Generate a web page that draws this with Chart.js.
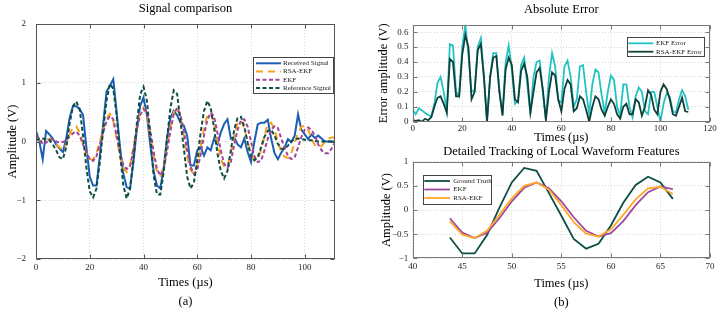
<!DOCTYPE html>
<html>
<head>
<meta charset="utf-8">
<title>Signal comparison</title>
<script src="https://cdn.jsdelivr.net/npm/chart.js@4.4.0/dist/chart.umd.min.js"></script>
<style>
  html, body { margin: 0; padding: 0; background: #fff; }
  #wrap { position: relative; width: 725px; height: 315px; overflow: hidden; }
  canvas { position: absolute; }
</style>
</head>
<body>
<div id="wrap">
  <canvas id="chartA" width="372" height="315" style="left:0;top:0"></canvas>
  <canvas id="chartErr" width="355" height="146" style="left:370px;top:0"></canvas>
  <canvas id="chartZoom" width="355" height="172" style="left:370px;top:143px"></canvas>
</div>
<script>
// tider i µs (samma samplingssteg för alla kurvor i (a) och felgrafen)
const times = [
  0, 1.25, 2.5, 3.75, 5, 6.25, 7.5, 8.75, 10, 11.25,
  12.5, 13.75, 15, 16.25, 17.5, 18.75, 20, 21.25, 22.5, 23.75,
  25, 26.25, 27.5, 28.75, 30, 31.25, 32.5, 33.75, 35, 36.25,
  37.5, 38.75, 40, 41.25, 42.5, 43.75, 45, 46.25, 47.5, 48.75,
  50, 51.25, 52.5, 53.75, 55, 56.25, 57.5, 58.75, 60, 61.25,
  62.5, 63.75, 65, 66.25, 67.5, 68.75, 70, 71.25, 72.5, 73.75,
  75, 76.25, 77.5, 78.75, 80, 81.25, 82.5, 83.75, 85, 86.25,
  87.5, 88.75, 90, 91.25, 92.5, 93.75, 95, 96.25, 97.5, 98.75,
  100, 101.25, 102.5, 103.75, 105, 106.25, 107.5, 108.75, 110, 111.25
];

const received = [
  0.18, 0.0, -0.3, 0.18, 0.12, 0.05, -0.05, -0.12, -0.18, 0.05,
  0.4, 0.6, 0.6, 0.55, 0.45, -0.1, -0.6, -0.75, -0.75, -0.25,
  0.3, 0.85, 0.95, 1.06, 0.5, -0.1, -0.55, -0.78, -0.8, -0.35,
  0.2, 0.6, 0.75, 0.45, -0.05, -0.5, -0.75, -0.8, -0.45, 0.05,
  0.4, 0.52, 0.45, 0.32, 0.27, 0.1, -0.41, -0.41, -0.15, -0.1,
  -0.24, -0.1, -0.15, 0.05, -0.05, 0.15, 0.3, 0.38, 0.05, 0.07,
  -0.05, -0.1, 0.05, -0.18, -0.35, 0.0, 0.29, 0.32, 0.32, 0.37,
  0.05, -0.2, -0.3, -0.19, -0.1, 0.04, -0.01, 0.1, 0.46, 0.2,
  0.12, 0.04, 0.12, 0.06, 0.1, 0.05, 0.0, 0.0, 0.0, 0.0
];

const rsaEkf = [
  0.05, 0.02, 0.0, 0.02, 0.05, 0.02, -0.05, -0.1, -0.14, -0.05,
  0.12, 0.24, 0.26, 0.15, -0.05, -0.2, -0.3, -0.31, -0.2, 0.0,
  0.22, 0.4, 0.47, 0.35, 0.05, -0.25, -0.45, -0.52, -0.4, -0.1,
  0.25, 0.5, 0.58, 0.45, 0.1, -0.23, -0.51, -0.58, -0.43, -0.1,
  0.24, 0.5, 0.57, 0.42, 0.1, -0.25, -0.49, -0.55, -0.4, -0.1,
  0.22, 0.45, 0.48, 0.33, 0.0, -0.3, -0.43, -0.42, -0.2, 0.1,
  0.32, 0.36, 0.22, 0.0, -0.22, -0.32, -0.3, -0.15, 0.1, 0.3,
  0.32, 0.2, 0.0, -0.18, -0.26, -0.28, -0.2, -0.02, 0.15, 0.25,
  0.27, 0.2, 0.05, -0.06, -0.1, -0.08, 0.0, 0.05, 0.07, 0.07
];

const ekf = [
  0.1, 0.05, -0.05, -0.02, 0.03, 0.04, 0.0, -0.02, -0.01, 0.02,
  0.08, 0.14, 0.17, 0.1, -0.05, -0.18, -0.3, -0.33, -0.25, -0.05,
  0.15, 0.35, 0.43, 0.38, 0.1, -0.2, -0.4, -0.47, -0.42, -0.15,
  0.2, 0.45, 0.55, 0.5, 0.2, -0.17, -0.47, -0.58, -0.47, -0.17,
  0.18, 0.46, 0.57, 0.45, 0.18, -0.15, -0.43, -0.55, -0.48, -0.23,
  0.1, 0.37, 0.49, 0.43, 0.15, -0.15, -0.38, -0.45, -0.35, -0.05,
  0.2, 0.36, 0.38, 0.25, 0.0, -0.25, -0.35, -0.33, -0.15, 0.05,
  0.2, 0.26, 0.23, 0.05, -0.1, -0.25, -0.3, -0.27, -0.1, 0.08,
  0.2, 0.24, 0.2, 0.1, -0.05, -0.15, -0.2, -0.2, -0.12, -0.02
];

const reference = [
  0.02, 0.04, 0.05, 0.04, 0.02, -0.05, -0.15, -0.27, -0.3, -0.1,
  0.3, 0.6, 0.68, 0.55, 0.1, -0.45, -0.85, -0.95, -0.8, -0.35,
  0.2, 0.7, 0.98, 0.9, 0.45, -0.2, -0.75, -0.97, -0.8, -0.3,
  0.3, 0.8, 0.93, 0.7, 0.1, -0.57, -0.9, -0.9, -0.52, 0.05,
  0.57, 0.87, 0.81, 0.35, -0.12, -0.6, -0.8, -0.7, -0.32, 0.15,
  0.52, 0.69, 0.57, 0.23, -0.2, -0.5, -0.63, -0.5, -0.15, 0.2,
  0.4, 0.42, 0.25, -0.02, -0.25, -0.32, -0.27, -0.1, 0.08, 0.18,
  0.2, 0.1, -0.04, -0.12, -0.13, -0.07, 0.0, 0.04, 0.05, 0.04,
  0.03, 0.02, 0.02, 0.01, 0.0, 0.0, 0.0, 0.0, 0.0, 0.0
];

// absolutfel
const ekfError = [
  0.08, 0.05, 0.09, 0.075, 0.06, 0.045, 0.035, 0.12, 0.26, 0.3,
  0.2, 0.07, 0.52, 0.51, 0.2, 0.17, 0.5, 0.65, 0.45, 0.2,
  0.21, 0.5, 0.56, 0.3, 0.0, 0.3, 0.46, 0.46, 0.2, 0.05,
  0.4, 0.51, 0.35, 0.12, 0.14, 0.38, 0.43, 0.25, 0.05, 0.3,
  0.4, 0.41, 0.2, 0.02, 0.3, 0.46, 0.37, 0.14, 0.13, 0.37,
  0.41, 0.3, 0.1, 0.15, 0.37, 0.38, 0.2, 0.05, 0.25, 0.35,
  0.33, 0.18, 0.06, 0.2, 0.31, 0.28, 0.1, 0.04, 0.25, 0.25,
  0.1, 0.03, 0.17, 0.23, 0.2, 0.07, 0.05, 0.2, 0.2, 0.1,
  0.0, 0.12, 0.19, 0.17, 0.07, 0.06, 0.15, 0.21, 0.17, 0.08
];

const rsaError = [
  0.01, 0.005, 0.01, 0.0, 0.02, 0.01, 0.03, 0.1, 0.16, 0.17,
  0.12, 0.06, 0.42, 0.4, 0.17, 0.17, 0.45, 0.58, 0.5, 0.15,
  0.2, 0.48, 0.52, 0.3, 0.0, 0.3, 0.43, 0.44, 0.2, 0.04,
  0.35, 0.43, 0.38, 0.15, 0.13, 0.34, 0.39, 0.3, 0.06, 0.2,
  0.33, 0.36, 0.22, 0.01, 0.2, 0.33, 0.31, 0.15, 0.07, 0.22,
  0.28, 0.25, 0.07, 0.09, 0.17, 0.15, 0.08, 0.0, 0.1, 0.17,
  0.15, 0.08, 0.04, 0.1, 0.15, 0.12, 0.05, 0.02, 0.1, 0.12,
  0.05, 0.05, 0.15, 0.13, 0.04, 0.1, 0.21, 0.18, 0.08, 0.05,
  0.2, 0.25, 0.22, 0.15, 0.05, 0.04, 0.1, 0.16, 0.07, 0.065
];

// utsnittet 43.75–66.25 µs
const zoomTimes = [43.75, 45, 46.25, 47.5, 48.75, 50, 51.25, 52.5, 53.75, 55,
  56.25, 57.5, 58.75, 60, 61.25, 62.5, 63.75, 65, 66.25];
const groundTruth = [-0.57, -0.9, -0.9, -0.52, 0.05, 0.57, 0.87, 0.81, 0.35, -0.12,
  -0.6, -0.8, -0.7, -0.32, 0.15, 0.52, 0.69, 0.57, 0.23];
const zoomEkf = [-0.17, -0.47, -0.58, -0.47, -0.17, 0.18, 0.46, 0.57, 0.45, 0.18,
  -0.15, -0.43, -0.55, -0.48, -0.23, 0.1, 0.37, 0.49, 0.43];
const zoomRsa = [-0.23, -0.51, -0.58, -0.43, -0.1, 0.24, 0.5, 0.57, 0.42, 0.1,
  -0.25, -0.49, -0.55, -0.4, -0.1, 0.22, 0.45, 0.48, 0.33];

// tick-värden
const aXTicks = [0, 20, 40, 60, 80, 100];
const aYTicks = [-2, -1, 0, 1, 2];
const errXTicks = [0, 20, 40, 60, 80, 100, 120];
const errYTicks = [0, 0.1, 0.2, 0.3, 0.4, 0.5, 0.6];
const zoomXTicks = [40, 45, 50, 55, 60, 65, 70];
const zoomYTicks = [-1, -0.5, 0, 0.5, 1];

Chart.defaults.font.family = '"Liberation Serif", "Times New Roman", serif';
Chart.defaults.color = '#262626';
Chart.defaults.animation = false;

function pts(xs, ys) {
  return xs.map((x, i) => ({ x: x, y: ys[i] }));
}
const minus = v => String(v).replace('-', '\u2212');

// ram + korta tickar inåt (MATLAB-stil)
const frame = {
  id: 'frame',
  afterDatasetsDraw(chart, args, opts) {
    const { ctx, chartArea: a, scales } = chart;
    const l = Math.round(a.left) + 0.5, r = Math.round(a.right) - 0.5;
    const t = Math.round(a.top) + 0.5, b = Math.round(a.bottom) - 0.5;
    const len = 4;
    ctx.save();
    ctx.strokeStyle = opts.color || '#555';
    ctx.lineWidth = 1;
    ctx.setLineDash([]);
    ctx.strokeRect(l, t, r - l, b - t);
    ctx.beginPath();
    scales.x.ticks.forEach(tk => {
      const px = Math.round(scales.x.getPixelForValue(tk.value)) + 0.5;
      ctx.moveTo(px, b); ctx.lineTo(px, b - len);
      ctx.moveTo(px, t); ctx.lineTo(px, t + len);
    });
    scales.y.ticks.forEach(tk => {
      const py = Math.round(scales.y.getPixelForValue(tk.value)) + 0.5;
      ctx.moveTo(l, py); ctx.lineTo(l + len, py);
      ctx.moveTo(r, py); ctx.lineTo(r - len, py);
    });
    ctx.stroke();
    ctx.restore();
  }
};

// egen legend inne i plotytan
const boxLegend = {
  id: 'boxLegend',
  afterDraw(chart, args, o) {
    const ctx = chart.ctx;
    ctx.save();
    ctx.fillStyle = '#fff';
    ctx.fillRect(o.x, o.y, o.w, o.h);
    ctx.strokeStyle = '#444';
    ctx.lineWidth = 1;
    ctx.strokeRect(Math.round(o.x) + 0.5, Math.round(o.y) + 0.5, Math.round(o.w), Math.round(o.h));
    ctx.font = '7px "Liberation Serif", serif';
    ctx.textBaseline = 'middle';
    chart.data.datasets.forEach((ds, i) => {
      const y = o.y + o.first + i * o.rowH;
      ctx.strokeStyle = ds.borderColor;
      ctx.lineWidth = ds.borderWidth;
      ctx.setLineDash(ds.borderDash || []);
      ctx.beginPath();
      ctx.moveTo(o.x + o.lineX, y);
      ctx.lineTo(o.x + o.lineX + o.lineLen, y);
      ctx.stroke();
      ctx.setLineDash([]);
      ctx.fillStyle = '#222';
      ctx.fillText(ds.label, o.x + o.lineX + o.lineLen + o.gap, y);
    });
    ctx.restore();
  }
};

function axis(o) {
  return {
    type: 'linear',
    min: o.min,
    max: o.max,
    afterBuildTicks: s => { s.ticks = o.ticks.map(v => ({ value: v })); },
    afterFit: s => {
      if (o.width) s.width = o.width;
      if (o.height) s.height = o.height;
    },
    ticks: { font: { size: 9 }, color: '#262626', padding: o.pad, autoSkip: false, maxRotation: 0,
      callback: v => minus(v) },
    grid: { color: 'rgba(38,38,38,0.2)', drawTicks: false },
    border: { display: false, dash: [1, 2] },
    title: { display: true, text: o.title, color: '#000',
      font: { size: 12.5, lineHeight: o.lh || 1.2 }, padding: o.titlePad }
  };
}

function title(text, top, bottom) {
  return { display: true, text: text, color: '#000', fullSize: false,
    font: { size: 12.5, weight: 'normal', lineHeight: 1.2 }, padding: { top: top, bottom: bottom } };
}

function line(label, xs, ys, color, width, dash, order) {
  return { label: label, data: pts(xs, ys), borderColor: color, borderWidth: width,
    borderDash: dash, order: order, pointRadius: 0, tension: 0, fill: false };
}

// (a) Signal comparison
new Chart(document.getElementById('chartA'), {
  type: 'line',
  data: {
    datasets: [
      line('Received Signal', times, received, '#1a5fb4', 2, [], 4),
      line('RSA-EKF', times, rsaEkf, '#f9a11b', 2, [7, 5], 3),
      line('EKF', times, ekf, '#a2449e', 2, [4, 2.5], 2),
      line('Reference Signal', times, reference, '#0d4f45', 2, [4, 2.5], 1)
    ]
  },
  options: {
    responsive: false,
    layout: { padding: { left: 0, right: 37, top: 0, bottom: 0 } },
    plugins: {
      legend: { display: false },
      tooltip: { enabled: false },
      title: title('Signal comparison', 1.5, 7.5),
      frame: { color: '#555' },
      boxLegend: { x: 253, y: 57, w: 80, h: 36, first: 6.3, rowH: 8.2, lineX: 3, lineLen: 25, gap: 2 }
    },
    scales: {
      x: axis({ min: 0, max: 111.25, ticks: aXTicks, pad: 3.5, height: 56,
        title: ['Times (µs)', '(a)'], lh: 19 / 12.5, titlePad: { top: 0, bottom: 3.5 } }),
      y: axis({ min: -2, max: 2, ticks: aYTicks, pad: 10, width: 36,
        title: 'Amplitude (V)', titlePad: { top: 5.5, bottom: 0 } })
    }
  },
  plugins: [frame, boxLegend]
});

// Absolute Error
new Chart(document.getElementById('chartErr'), {
  type: 'line',
  data: {
    datasets: [
      line('EKF Error', times, ekfError, '#22c3c3', 1.8, [], 2),
      line('RSA-EKF Error', times, rsaError, '#10403a', 1.8, [], 1)
    ]
  },
  options: {
    responsive: false,
    layout: { padding: { left: 0, right: 15, top: 0, bottom: 0 } },
    plugins: {
      legend: { display: false },
      tooltip: { enabled: false },
      title: title('Absolute Error', 2, 7.7),
      frame: { color: '#777' },
      boxLegend: { x: 256.7, y: 37.3, w: 76.6, h: 19.4, first: 6, rowH: 8.4, lineX: 1.6, lineLen: 25, gap: 2.7 }
    },
    scales: {
      x: axis({ min: 0, max: 120, ticks: errXTicks, pad: 1.3, height: 24.3,
        title: 'Times (µs)', titlePad: { top: 0, bottom: 0.5 } }),
      y: axis({ min: 0, max: 0.65, ticks: errYTicks, pad: 4.2, width: 42.7,
        title: 'Error amplitude (V)', titlePad: { top: 6.7, bottom: 0 } })
    }
  },
  plugins: [frame, boxLegend]
});

// Detailed Tracking of Local Waveform Features
new Chart(document.getElementById('chartZoom'), {
  type: 'line',
  data: {
    datasets: [
      line('Ground Truth', zoomTimes, groundTruth, '#0d4f45', 1.8, [], 3),
      line('EKF', zoomTimes, zoomEkf, '#9b4a9f', 1.8, [], 2),
      line('RSA-EKF', zoomTimes, zoomRsa, '#ffa726', 1.8, [], 1)
    ]
  },
  options: {
    responsive: false,
    layout: { padding: { left: 0, right: 15, top: 0, bottom: 0 } },
    plugins: {
      legend: { display: false },
      tooltip: { enabled: false },
      title: title('Detailed Tracking of Local Waveform Features', 1, 2.7),
      frame: { color: '#777' },
      boxLegend: { x: 52.7, y: 32, w: 68, h: 29, first: 6, rowH: 8.5, lineX: 1.6, lineLen: 25.7, gap: 3.3 }
    },
    scales: {
      x: axis({ min: 40, max: 70, ticks: zoomXTicks, pad: 3, height: 56.7,
        title: ['Times (µs)', '(b)'], lh: 18.7 / 12.5, titlePad: { top: 0, bottom: 2.95 } }),
      y: axis({ min: -1, max: 1, ticks: zoomYTicks, pad: 4.4, width: 42.7,
        title: 'Amplitude (V)', titlePad: { top: 8.9, bottom: 0 } })
    }
  },
  plugins: [frame, boxLegend]
});
</script>
</body>
</html>
